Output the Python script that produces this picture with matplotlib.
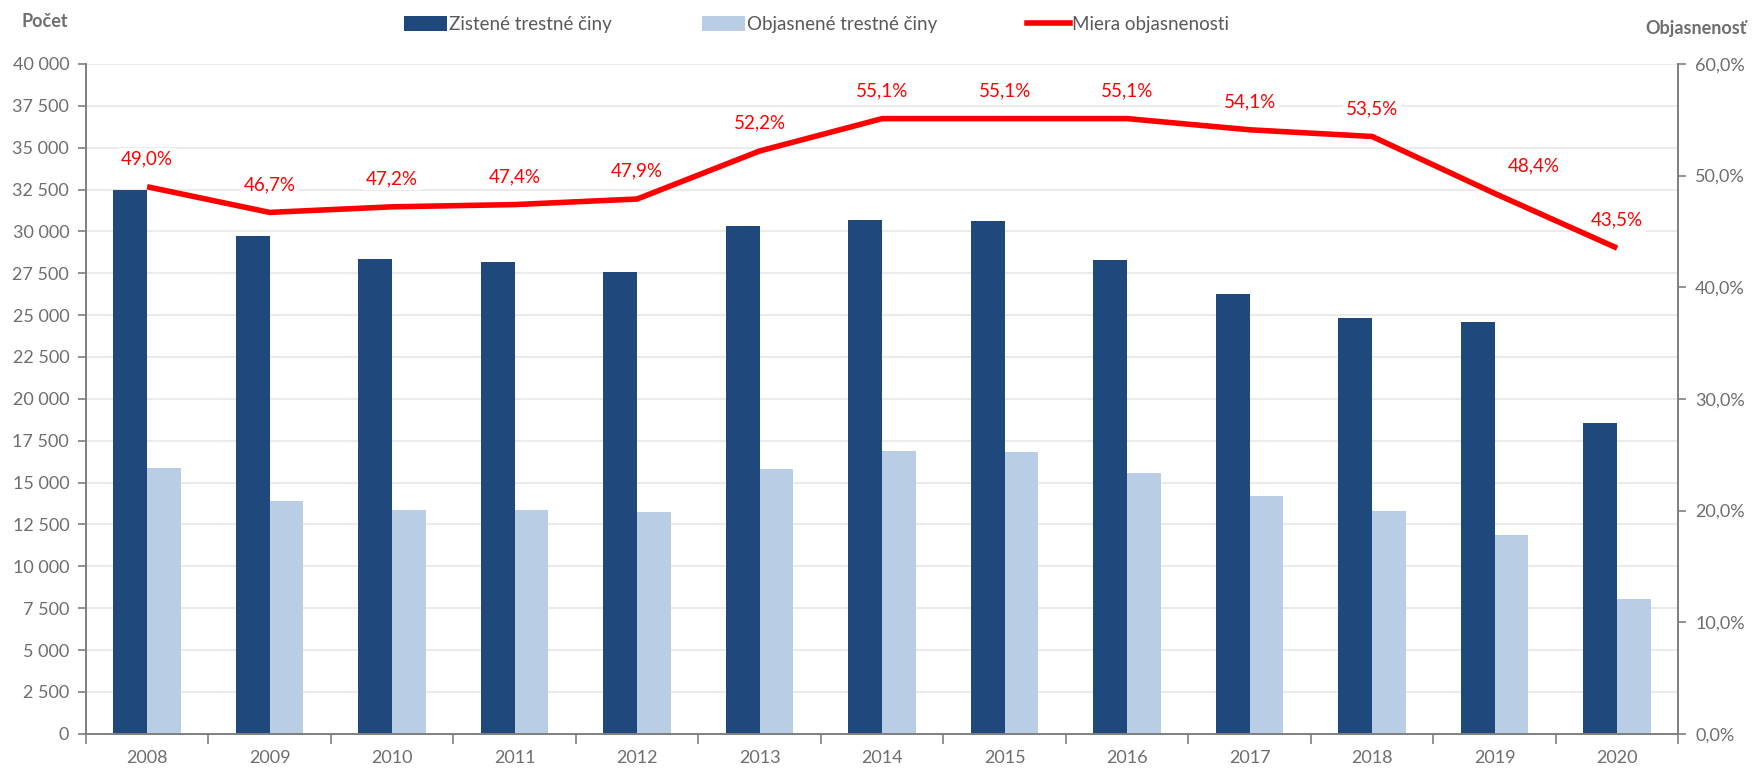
import matplotlib.pyplot as plt
import matplotlib.ticker as mticker
from matplotlib.patches import Patch
from matplotlib.lines import Line2D
import numpy as np

plt.rcParams['font.family'] = ['Lato', 'DejaVu Sans']

# Data
years = ['2008', '2009', '2010', '2011', '2012', '2013', '2014',
         '2015', '2016', '2017', '2018', '2019', '2020']
zistene = [32450, 29720, 28350, 28150, 27560, 30320, 30680,
           30600, 28290, 26270, 24820, 24580, 18530]
objasnene = [15880, 13900, 13370, 13340, 13220, 15820, 16900,
             16840, 15580, 14220, 13280, 11900, 8060]
miera = [49.0, 46.7, 47.2, 47.4, 47.9, 52.2, 55.1,
         55.1, 55.1, 54.1, 53.5, 48.4, 43.5]

# Colors
DARK = '#1F497D'
LIGHT = '#B9CDE5'
RED = '#FF0000'
GRAY = '#7F7F7F'
TXT = '#6E6E6E'

fig = plt.figure(figsize=(17.52, 7.7), dpi=100)
ax = fig.add_axes([0.049, 0.047, 0.909, 0.870])
ax2 = ax.twinx()

x = np.arange(len(years))
w = 0.275
ax.bar(x - w / 2, zistene, w, color=DARK, zorder=2)
ax.bar(x + w / 2, objasnene, w, color=LIGHT, zorder=2)

ax2.plot(x, miera, color=RED, linewidth=4, solid_capstyle='butt', zorder=3)

# data labels
for i, v in enumerate(miera):
    dx = 28 if i == 11 else 0
    ax2.annotate(f'{v:.1f}%'.replace('.', ','), (x[i], v),
                 xytext=(dx, 20), textcoords='offset points',
                 ha='center', va='center', color=RED, fontsize=13.5,
                 bbox=dict(boxstyle='square,pad=0.15', facecolor='white',
                           edgecolor='none'),
                 zorder=4)

# left axis
ax.set_xlim(-0.5, len(years) - 0.5)
ax.set_ylim(0, 40000)
ax.set_yticks(np.arange(0, 40001, 2500))
ax.yaxis.set_major_formatter(mticker.FuncFormatter(
    lambda v, p: f'{int(v):,}'.replace(',', ' ')))
ax.yaxis.grid(True, color='#EBEBEB', linewidth=1.5, zorder=0)
ax.set_axisbelow(True)

# x ticks: marks between categories, labels at centers
ax.set_xticks(np.arange(-0.5, len(years), 1))
ax.set_xticklabels([])
ax.set_xticks(x, minor=True)
ax.set_xticklabels(years, minor=True)
ax.tick_params(axis='x', which='major', length=7, color=GRAY, width=1.2)
ax.tick_params(axis='x', which='minor', length=0, pad=12,
               labelsize=13, labelcolor=TXT)
ax.tick_params(axis='y', length=6, color=GRAY, width=1.2, pad=6,
               labelsize=13, labelcolor=TXT)

# right axis
ax2.set_ylim(0, 60)
ax2.set_yticks(np.arange(0, 61, 10))
ax2.yaxis.set_major_formatter(mticker.FuncFormatter(
    lambda v, p: f'{v:.1f}%'.replace('.', ',')))
ax2.tick_params(axis='y', length=6, color=GRAY, width=1.2, pad=6,
                labelsize=13, labelcolor=TXT)

for a in (ax, ax2):
    a.spines['top'].set_visible(False)
    for s in ('left', 'right', 'bottom'):
        a.spines[s].set_color(GRAY)
        a.spines[s].set_linewidth(1.2)

# axis titles
fig.text(0.012, 0.972, 'Počet', fontsize=13, fontweight='bold',
         color=TXT, ha='left', va='center')
fig.text(0.997, 0.963, 'Objasnenosť', fontsize=13, fontweight='bold',
         color=TXT, ha='right', va='center')

# legend
handles = [Patch(facecolor=DARK, label='Zistené trestné činy'),
           Patch(facecolor=LIGHT, label='Objasnené trestné činy'),
           Line2D([0], [0], color=RED, linewidth=4, label='Miera objasnenosti')]
fig.legend(handles=handles, loc='center', bbox_to_anchor=(0.466, 0.968),
           ncol=3, frameon=False, fontsize=13.5, labelcolor='#595959',
           handlelength=2.3, handleheight=0.8, handletextpad=0.1,
           columnspacing=4.8)

fig.savefig('out.png', dpi=100, facecolor='white')
